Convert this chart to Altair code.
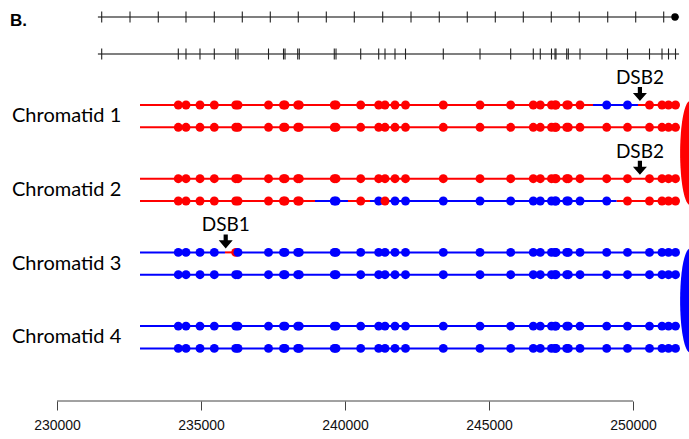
import altair as alt
import pandas as pd

# ---------------- data (genomic coordinates, bp) ----------------
# top track: evenly spaced map markers and the end dot
MAP_TICKS = [231552, 232535, 233517, 234479, 235462, 236434, 237406, 238378,
             239351, 240323, 241309, 242292, 243274, 244246, 245219, 246191,
             247163, 248135, 249122, 250094, 251066]
MAP_DOT = [251458]
MAP_LINE = [231420, 251600]

# second track: SNP marker positions (also the dots on each chromatid)
SNP_FIRST_TICK = [231552]
SNPS = [234212, 234479, 234965, 235462, 236205, 236285, 237344, 237865, 237917,
        238358, 238413, 239628, 239688, 240545, 241170, 241389, 241736, 242101,
        243413, 244688, 245753, 246538, 246781, 247170, 247292, 247326, 247698,
        247754, 248160, 249087, 249809, 250573, 251007, 251233, 251476]
SNP_LINE = [231420, 251600]

AXIS_TICKS = [230000, 235000, 240000, 245000, 250000]

CHROMATIDS = ["Chromatid 1", "Chromatid 2", "Chromatid 3", "Chromatid 4"]
CHROM_SPAN = [232882, 251563]

# colour segments of each strand: (chromatid, strand, start, end, parent)
SEGMENTS = [
    ("Chromatid 1", 0, 232882, 248611, "P1"),
    ("Chromatid 1", 0, 248611, 250174, "P2"),
    ("Chromatid 1", 0, 250174, 251563, "P1"),
    ("Chromatid 1", 1, 232882, 251563, "P1"),
    ("Chromatid 2", 0, 232882, 251563, "P1"),
    ("Chromatid 2", 1, 232882, 238958, "P1"),
    ("Chromatid 2", 1, 238958, 240104, "P2"),
    ("Chromatid 2", 1, 240104, 240868, "P1"),
    ("Chromatid 2", 1, 240868, 241285, "P2"),
    ("Chromatid 2", 1, 241285, 241528, "P1"),
    ("Chromatid 2", 1, 241528, 249434, "P2"),
    ("Chromatid 2", 1, 249434, 251563, "P1"),
    ("Chromatid 3", 0, 232882, 235833, "P2"),
    ("Chromatid 3", 0, 235833, 236240, "P1"),
    ("Chromatid 3", 0, 236240, 251563, "P2"),
    ("Chromatid 3", 1, 232882, 251563, "P2"),
    ("Chromatid 4", 0, 232882, 251563, "P2"),
    ("Chromatid 4", 1, 232882, 251563, "P2"),
]

# double-strand breaks: (label, position, chromatid, strand)
DSBS = [("DSB2", 250240, "Chromatid 1", 0),
        ("DSB2", 250240, "Chromatid 2", 0),
        ("DSB1", 235858, "Chromatid 3", 0)]

# centromeres: (parent, chromatids)
CENTROMERES = [("P1", ["Chromatid 1", "Chromatid 2"]),
               ("P2", ["Chromatid 3", "Chromatid 4"])]
CENTROMERE_X = 251979

PARENTS = ["P1", "P2"]

# ---------------- layout & style ----------------
W, PLOT_H, BOTTOM_PAD = 689, 401, 38
X_DOMAIN = [228020.83, 251944.44]
MAP_Y, SNP_Y = 17, 54
CHROM_Y0, CHROM_STEP, STRAND_GAP = 105, 73.7, 22.3
ARROW_GAP, LABEL_GAP = 11, 27
PARENT_COLORS = ["#ff0000", "#0000ff"]
FONT = "Lato"


def strand_y(chromatid, strand):
    return CHROM_Y0 + CHROMATIDS.index(chromatid) * CHROM_STEP + strand * STRAND_GAP


xscale = alt.Scale(domain=X_DOMAIN, nice=False, zero=False)
yscale = alt.Scale(domain=[0, PLOT_H], reverse=True, nice=False, zero=False)
xaxis = alt.Axis(values=AXIS_TICKS, format="d", domain=False, grid=False,
                 tickSize=9, tickColor="#444444", tickWidth=1,
                 labelFontSize=14, labelFont="Liberation Sans", labelColor="#111111",
                 labelPadding=8, title=None, labelFlush=False, labelOverlap=False)
colscale = alt.Scale(domain=PARENTS, range=PARENT_COLORS)


def X(field="x"):
    return alt.X(f"{field}:Q", scale=xscale, axis=xaxis)


def Y(field="y"):
    return alt.Y(f"{field}:Q", scale=yscale, axis=None)


# ---- tables ----
track_lines = pd.DataFrame({
    "x": [MAP_LINE[0], SNP_LINE[0]], "x2": [MAP_LINE[1], SNP_LINE[1]],
    "y": [MAP_Y, SNP_Y]})
track_ticks = pd.DataFrame(
    [{"x": v, "y": MAP_Y} for v in MAP_TICKS] +
    [{"x": v, "y": SNP_Y} for v in SNP_FIRST_TICK + SNPS])
map_dot = pd.DataFrame({"x": MAP_DOT, "y": [MAP_Y] * len(MAP_DOT)})

seg_df = pd.DataFrame([
    {"x": s, "x2": e, "y": strand_y(c, st), "parent": p}
    for c, st, s, e, p in SEGMENTS])


def parent_at(c, st, pos):
    for cc, ss, s, e, p in SEGMENTS:
        if cc == c and ss == st and s <= pos < e:
            return p
    return None


dot_rows = []
for c in CHROMATIDS:
    for st in (0, 1):
        for pos in SNPS:
            dot_rows.append({"x": pos, "y": strand_y(c, st), "parent": parent_at(c, st, pos)})
dots_df = pd.DataFrame(dot_rows)

dsb_df = pd.DataFrame([
    {"x": pos, "ya": strand_y(c, st) - ARROW_GAP, "yt": strand_y(c, st) - LABEL_GAP, "label": lab}
    for lab, pos, c, st in DSBS])

label_df = pd.DataFrame([
    {"label": c, "y": strand_y(c, 0) + STRAND_GAP / 2} for c in CHROMATIDS])

cen_df = pd.DataFrame([
    {"x": CENTROMERE_X,
     "y": (strand_y(cs[0], 0) + strand_y(cs[-1], 1)) / 2,
     "parent": p} for p, cs in CENTROMERES])

axis_line = pd.DataFrame({"x": [AXIS_TICKS[0]], "x2": [AXIS_TICKS[-1]]})

# ---- shapes ----
RX, K = 0.19, 0.5523
ELLIPSE = (f"M0,-1C{K*RX:.4f},-1 {RX},-{K} {RX},0C{RX},{K} {K*RX:.4f},1 0,1"
           f"C{-K*RX:.4f},1 {-RX},{K} {-RX},0C{-RX},{-K} {-K*RX:.4f},-1 0,-1Z")
ARROW = "M-0.3,-1L0.3,-1L0.3,-0.15L1,-0.15L0,1L-1,-0.15L-0.3,-0.15Z"
VTICK = "M0,-1L0,1"

# ---- layers ----
l_track_lines = alt.Chart(track_lines).mark_rule(color="#000000", strokeWidth=1.2).encode(
    x=X(), x2="x2:Q", y=Y())
l_track_ticks = alt.Chart(track_ticks).mark_point(
    shape=VTICK, size=121, filled=False, color="#222222", strokeWidth=1.1, opacity=1).encode(
    x=X(), y=Y())
l_map_dot = alt.Chart(map_dot).mark_circle(size=55, color="#000000", opacity=1).encode(
    x=X(), y=Y())

l_segs = alt.Chart(seg_df).mark_rule(strokeWidth=2).encode(
    x=X(), x2="x2:Q", y=Y(),
    color=alt.Color("parent:N", scale=colscale, legend=None))
l_dots = alt.Chart(dots_df).mark_circle(size=80, opacity=1).encode(
    x=X(), y=Y(), color=alt.Color("parent:N", scale=colscale, legend=None))

l_arrows = alt.Chart(dsb_df).mark_point(
    shape=ARROW, size=196, filled=True, color="#000000", opacity=1, strokeWidth=0).encode(
    x=X(), y=Y("ya"))
l_dsb_text = alt.Chart(dsb_df).mark_text(
    font=FONT, fontSize=19, color="#000000", align="center", baseline="middle").encode(
    x=X(), y=Y("yt"), text="label:N")

l_labels = alt.Chart(label_df).mark_text(
    font=FONT, fontSize=20, color="#000000", align="left", baseline="middle").encode(
    x=alt.value(12), y=Y(), text="label:N")

l_cen = alt.Chart(cen_df).mark_point(
    shape=ELLIPSE, size=104 * 104, filled=True, opacity=1, strokeWidth=0).encode(
    x=X(), y=Y(), color=alt.Color("parent:N", scale=colscale, legend=None))

l_axis_line = alt.Chart(axis_line).mark_rule(color="#444444", strokeWidth=1).encode(
    x=X(), x2="x2:Q", y=alt.value(PLOT_H))

l_panel = alt.Chart(pd.DataFrame({"t": ["B."]})).mark_text(
    font="Liberation Sans", fontSize=17, fontWeight="bold", color="#000000",
    align="left", baseline="middle").encode(
    x=alt.value(10), y=alt.value(21), text="t:N")

chart = alt.layer(
    l_track_lines, l_track_ticks, l_map_dot,
    l_segs, l_dots, l_arrows, l_dsb_text, l_labels, l_cen,
    l_axis_line, l_panel
).properties(
    width=W, height=PLOT_H,
    autosize=alt.AutoSizeParams(type="none"),
    padding={"left": 0, "top": 0, "right": 0, "bottom": BOTTOM_PAD},
    background="#ffffff",
).configure_view(stroke=None)

chart.save("out.html", embed_options={"renderer": "svg", "actions": False})
